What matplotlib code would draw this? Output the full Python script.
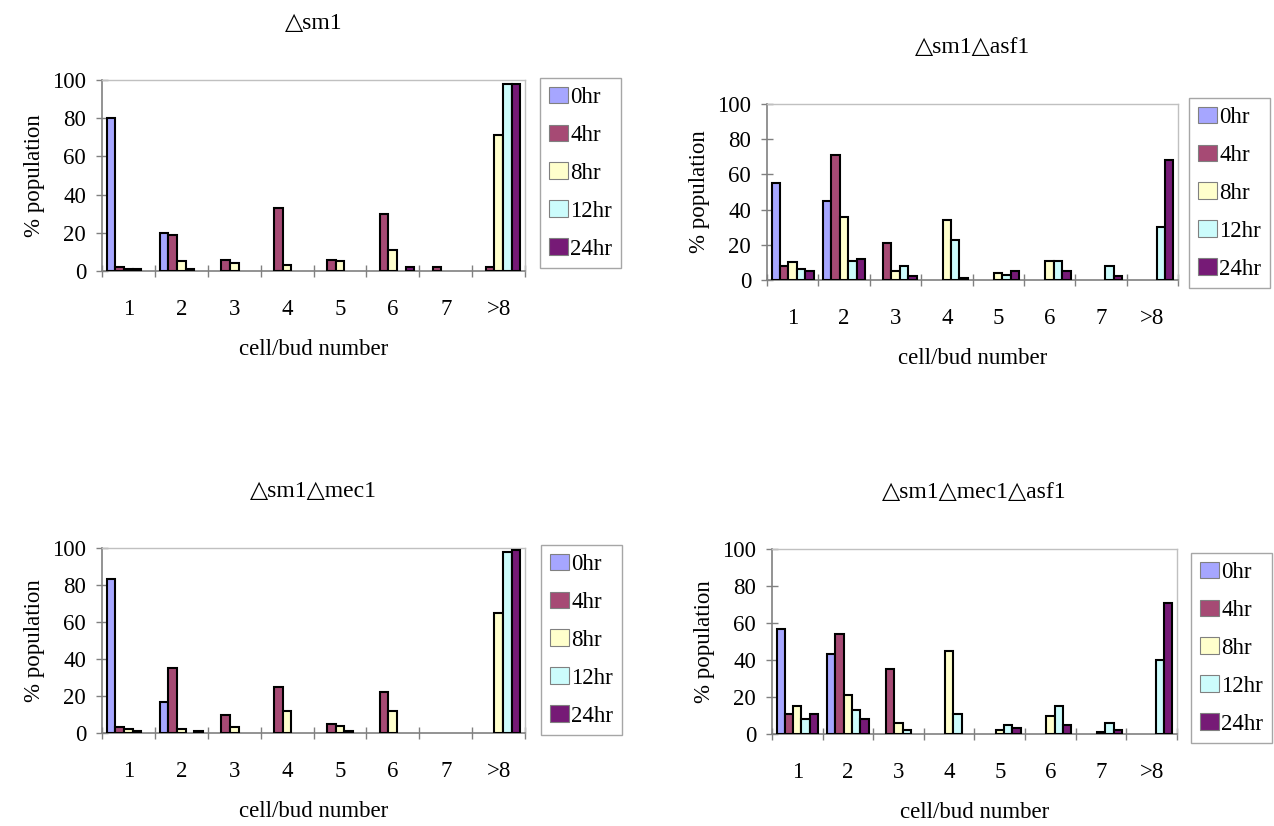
import numpy as np
import matplotlib
matplotlib.use("Agg")
import matplotlib.pyplot as plt
from matplotlib.patches import Patch

plt.rcParams['font.family'] = ['Liberation Serif', 'DejaVu Serif']

groups = ['1', '2', '3', '4', '5', '6', '7', '>8']
times = ['0hr', '4hr', '8hr', '12hr', '24hr']
colors = ['#a6a6ff', '#a64a74', '#ffffcc', '#ccfcfc', '#761a76']

# % population per cell/bud number, one list per time point
sm1 = {
    '0hr': [80, 20, 0, 0, 0, 0, 0, 0],
    '4hr': [2, 19, 6, 33, 6, 30, 2, 2],
    '8hr': [1, 5, 4, 3, 5, 11, 0, 71],
    '12hr': [1, 1, 0, 0, 0, 0, 0, 98],
    '24hr': [0, 0, 0, 0, 0, 2, 0, 98],
}
sm1_asf1 = {
    '0hr': [55, 45, 0, 0, 0, 0, 0, 0],
    '4hr': [8, 71, 21, 0, 0, 0, 0, 0],
    '8hr': [10, 36, 5, 34, 4, 11, 0, 0],
    '12hr': [6, 11, 8, 23, 3, 11, 8, 30],
    '24hr': [5, 12, 2, 1, 5, 5, 2, 68],
}
sm1_mec1 = {
    '0hr': [83, 17, 0, 0, 0, 0, 0, 0],
    '4hr': [3, 35, 10, 25, 5, 22, 0, 0],
    '8hr': [2, 2, 3, 12, 4, 12, 0, 65],
    '12hr': [1, 0, 0, 0, 1, 0, 0, 98],
    '24hr': [0, 1, 0, 0, 0, 0, 0, 99],
}
sm1_mec1_asf1 = {
    '0hr': [57, 43, 0, 0, 0, 0, 0, 0],
    '4hr': [11, 54, 35, 0, 0, 0, 0, 0],
    '8hr': [15, 21, 6, 45, 2, 10, 1, 0],
    '12hr': [8, 13, 2, 11, 5, 15, 6, 40],
    '24hr': [11, 8, 0, 0, 3, 5, 2, 71],
}

W, H = 1274, 826
fig = plt.figure(figsize=(W / 100, H / 100), dpi=100)

# (title, data, axes box in pixels l, t, r, b, legend top-left in pixels)
panels = [
    ('\u25b3sm1', sm1, (102, 80, 525, 271), (540, 78)),
    ('\u25b3sm1\u25b3asf1', sm1_asf1, (767, 104, 1178, 280), (1189, 98)),
    ('\u25b3sm1\u25b3mec1', sm1_mec1, (102, 548, 525, 733), (541, 545)),
    ('\u25b3sm1\u25b3mec1\u25b3asf1', sm1_mec1_asf1, (772, 549, 1177, 734), (1191, 553)),
]

fs = 16.5
w = 0.164
x = np.arange(1, len(groups) + 1)

for title, data, (l, t, r, b), (lx, ly) in panels:
    ax = fig.add_axes([l / W, 1 - b / H, (r - l) / W, (b - t) / H])
    for i, tm in enumerate(times):
        bars = ax.bar(x + (i - 2) * w, data[tm], width=w, color=colors[i],
                      edgecolor='black', linewidth=1.5, zorder=3)
        # empty categories get no bar at all
        for p in bars.patches:
            if p.get_height() == 0:
                p.set_visible(False)

    ax.set_xlim(0.5, len(groups) + 0.5)
    ax.set_ylim(0, 100)
    ax.set_yticks(range(0, 101, 20))
    ax.set_xticks(x)
    ax.set_xticklabels(groups)
    ax.set_xticks(np.arange(0.5, len(groups) + 1), minor=True)
    ax.tick_params(axis='x', which='major', length=0, pad=20, labelsize=fs)
    ax.tick_params(axis='x', which='minor', direction='inout', length=9,
                   color='#808080', width=1)
    ax.tick_params(axis='y', direction='inout', length=9, color='#808080',
                   width=1, pad=7, labelsize=fs)
    for side in ['top', 'right']:
        ax.spines[side].set_color('#c0c0c0')
        ax.spines[side].set_linewidth(1)
    for side in ['left', 'bottom']:
        ax.spines[side].set_color('#808080')
        ax.spines[side].set_linewidth(1.2)

    ax.set_xlabel('cell/bud number', fontsize=fs, labelpad=14)
    ax.set_ylabel('% population', fontsize=fs, labelpad=5)
    ax.set_title(title, fontsize=17, pad=37)

    handles = [Patch(facecolor=c, edgecolor='#808080', linewidth=0.8, label=tm)
               for c, tm in zip(colors, times)]
    leg = ax.legend(handles=handles, loc='upper left',
                    bbox_to_anchor=(lx / W, 1 - ly / H),
                    bbox_transform=fig.transFigure, borderaxespad=0,
                    fontsize=16.5, frameon=True, fancybox=False,
                    edgecolor='#909090', borderpad=0.38, labelspacing=0.72,
                    handlelength=0.85, handleheight=0.75, handletextpad=0.1)
    leg.get_frame().set_linewidth(1)

fig.savefig('out.png', dpi=100, facecolor='white')
